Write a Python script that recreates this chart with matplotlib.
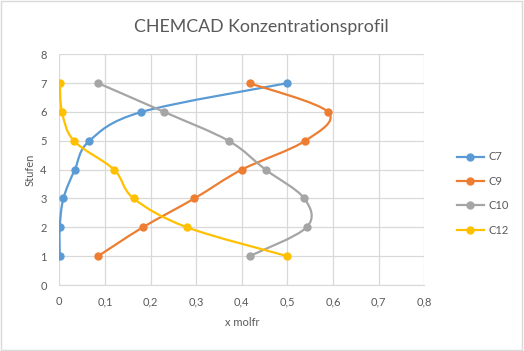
import matplotlib.pyplot as plt
import numpy as np
from matplotlib.path import Path
from matplotlib.patches import PathPatch, Rectangle
from matplotlib.lines import Line2D

plt.rcParams['font.family'] = ['Lato', 'DejaVu Sans']

# Daten
stufen = [1, 2, 3, 4, 5, 6, 7]
c7 = [0.001, 0.001, 0.009, 0.034, 0.066, 0.180, 0.500]
c9 = [0.085, 0.183, 0.296, 0.400, 0.539, 0.589, 0.417]
c10 = [0.417, 0.542, 0.537, 0.452, 0.371, 0.230, 0.085]
c12 = [0.500, 0.280, 0.163, 0.120, 0.032, 0.006, 0.001]

names = ['C7', 'C9', 'C10', 'C12']
colors = ['#5B9BD5', '#ED7D31', '#A5A5A5', '#FFC000']
text_col = '#595959'
grid_col = '#D9D9D9'


def smooth_path(xs, ys):
    # Excel-artige Glaettung mit Bezier-Kurven
    pts = np.column_stack([xs, ys])
    n = len(pts)
    verts = [pts[0]]
    codes = [Path.MOVETO]
    for i in range(n - 1):
        p0 = pts[i - 1] if i > 0 else pts[i]
        p1 = pts[i]
        p2 = pts[i + 1]
        p3 = pts[i + 2] if i + 2 < n else pts[i + 1]
        verts += [p1 + (p2 - p0) / 6, p2 - (p3 - p1) / 6, p2]
        codes += [Path.CURVE4] * 3
    return Path(verts, codes)


fig = plt.figure(figsize=(5.24, 3.51), dpi=100)
ax = fig.add_axes([59.3 / 524, 1 - 285 / 351, 365 / 524, 230.7 / 351])

handles = []
for xs, col, name in zip([c7, c9, c10, c12], colors, names):
    ax.add_patch(PathPatch(smooth_path(xs, stufen), facecolor='none', edgecolor=col, lw=1.6, zorder=3))
    ax.plot(xs, stufen, 'o', color=col, ms=5, zorder=4)
    handles.append(Line2D([], [], color=col, lw=1.6, marker='o', ms=5))

ax.set_xlim(0, 0.8)
ax.set_ylim(0, 8)
ax.set_xticks(np.arange(0, 0.81, 0.1))
ax.set_xticklabels(['0'] + [f'0,{i}' for i in range(1, 9)])
ax.set_yticks(range(9))
ax.grid(True, color=grid_col, lw=0.9)
ax.set_axisbelow(True)
for s in ax.spines.values():
    s.set_visible(False)
ax.spines['bottom'].set_visible(True)
ax.spines['bottom'].set_color(grid_col)
ax.tick_params(length=0, colors=text_col, labelsize=8)
ax.tick_params(axis='y', pad=9)
ax.tick_params(axis='x', pad=8)

fig.text(261 / 524, 1 - 27 / 351, 'CHEMCAD Konzentrationsprofil', ha='center', va='center',
         fontsize=12.8, color=text_col)
fig.text(242 / 524, 1 - 323 / 351, 'x molfr', ha='center', va='center', fontsize=8, color=text_col)
fig.text(30 / 524, 1 - 170 / 351, 'Stufen', ha='center', va='center', rotation=90, fontsize=8, color=text_col)

fig.legend(handles, names, loc='center left', bbox_to_anchor=(457 / 524, 1 - 193.5 / 351),
           frameon=False, fontsize=8, handlelength=2.4, labelspacing=1.2, borderpad=0,
           borderaxespad=0, handletextpad=0.4, labelcolor=text_col)

fig.patches.append(Rectangle((0.002, 0.004), 0.994, 0.992, transform=fig.transFigure,
                             fill=False, edgecolor=grid_col, lw=1))

fig.savefig('out.png', dpi=100)
